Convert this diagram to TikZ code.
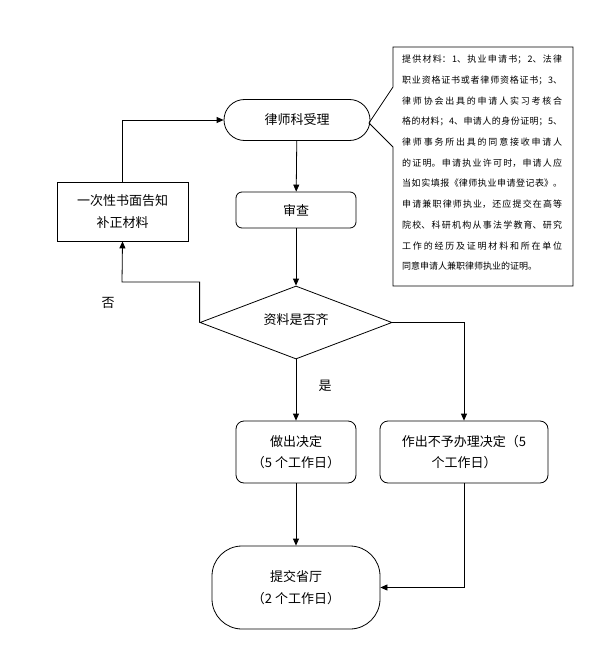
\documentclass[tikz,border=0pt]{standalone}
\usepackage{fontspec}
\newfontfamily\cjk{Noto Sans CJK SC}
\usetikzlibrary{shapes.geometric,arrows.meta}
\XeTeXlinebreaklocale "zh"
\XeTeXlinebreakskip=0pt plus 1pt
\begin{document}
\begin{tikzpicture}[x=1pt,y=-1pt,
  every node/.style={font=\cjk\fontsize{13}{21}\selectfont, align=center, inner sep=0pt},
  box/.style={draw, line width=0.8pt},
  rbox/.style={box, rounded corners=8pt},
  conn/.style={draw, line width=0.8pt, -{Triangle[length=7pt,width=6pt]}},
  plain/.style={draw, line width=0.8pt}
]
\useasboundingbox (0,0) rectangle (601,661);

% callout text
\node[font=\cjk\fontsize{9}{20.7}\selectfont, text width=160pt, align=justify, anchor=north west] (note) at (402,55)
{提供材料：1、执业申请书；2、法律\linebreak
职业资格证书或者律师资格证书；3、\linebreak
律师协会出具的申请人实习考核合\linebreak
格的材料；4、申请人的身份证明；5、\linebreak
律师事务所出具的同意接收申请人\linebreak
的证明。申请执业许可时，申请人应\linebreak
当如实填报《律师执业申请登记表》。\linebreak
申请兼职律师执业，还应提交在高等\linebreak
院校、科研机构从事法学教育、研究\linebreak
工作的经历及证明材料和所在单位\linebreak
同意申请人兼职律师执业的证明。};

% nodes
\node[box, rounded corners=20.5pt, minimum width=146pt, minimum height=41pt] (accept) at (297,120) {律师科受理};
\coordinate (tip) at (369,123);
\draw[plain] (393,87) -- (393,47) -- (573,47) -- (573,286) -- (393,286) -- (393,147) -- (tip) -- cycle;

\node[rbox, rounded corners=6pt, minimum width=120pt, minimum height=36pt] (review) at (296,210) {审查};
\node[box, minimum width=131pt, minimum height=59pt, font=\cjk\fontsize{13}{22}\selectfont] (notify) at (122.5,211.5) {一次性书面告知\\补正材料};
\node[draw, line width=0.8pt, diamond, minimum width=192pt, minimum height=73pt] (check) at (296,322.5) {};
\node (checkt) at (296,320) {资料是否齐};
\node[rbox, minimum width=120pt, minimum height=62pt] (decide) at (296,452) {做出决定\\（5 个工作日）};
\node[rbox, minimum width=168pt, minimum height=62pt] (refuse) at (464,452) {作出不予办理决定（5\\个工作日）};
\node[box, rounded corners=30pt, minimum width=168pt, minimum height=83pt, font=\cjk\fontsize{13}{22}\selectfont] (submit) at (296,587.5) {提交省厅\\（2 个工作日）};

\node (no) at (108,303) {否};
\node (yes) at (325,386) {是};

% connectors
\draw[conn] (accept) -- (review);
\draw[conn] (review) -- (check);
\draw[conn] (check.west) |- (122,282) -- (notify.south);
\draw[conn] (notify.north) |- (accept.west);
\draw[conn] (check.east) -| (refuse.north);
\draw[conn] (check.south) -- (decide.north);
\draw[conn] (decide.south) -- (submit.north);
\draw[conn] (refuse.south) |- (submit.east);
\end{tikzpicture}
\end{document}
